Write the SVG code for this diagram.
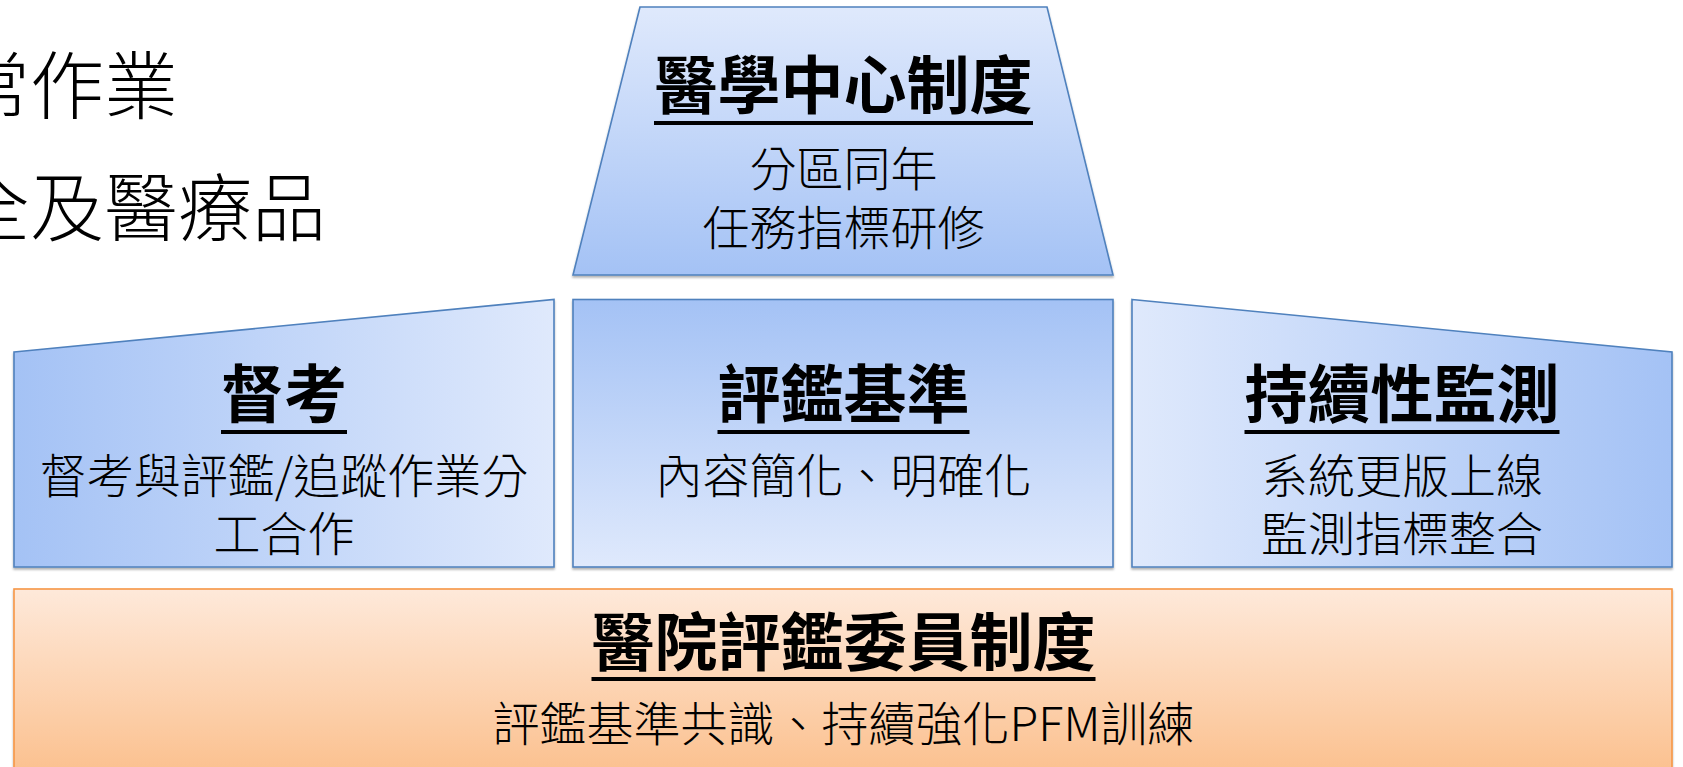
<svg xmlns="http://www.w3.org/2000/svg" width="1683" height="767" viewBox="0 0 1683 767">
  <style>
    text { font-family: "Noto Sans CJK TC", "Noto Sans CJK SC", "Noto Sans", sans-serif; fill: #000; text-anchor: middle; }
    .title { font-size: 63px; font-weight: bold; }
    .sub { font-size: 47px; font-weight: 300; }
    .bg { font-size: 74px; font-weight: 300; text-anchor: start; }
    .shape { stroke: #4f81bd; stroke-width: 1.6; filter: url(#shadow); }
    .ul { stroke: #000; stroke-width: 4; }
  </style>
  <defs>
    <linearGradient id="gDown" x1="0" y1="0" x2="0" y2="1">
      <stop offset="0" stop-color="#dfe9fc"/>
      <stop offset="1" stop-color="#a4c2f5"/>
    </linearGradient>
    <linearGradient id="gUp" x1="0" y1="0" x2="0" y2="1">
      <stop offset="0" stop-color="#a4c2f5"/>
      <stop offset="1" stop-color="#dfe9fc"/>
    </linearGradient>
    <linearGradient id="gLeft" x1="0" y1="0" x2="1" y2="0">
      <stop offset="0" stop-color="#a4c2f5"/>
      <stop offset="1" stop-color="#dfe9fc"/>
    </linearGradient>
    <linearGradient id="gRight" x1="0" y1="0" x2="1" y2="0">
      <stop offset="0" stop-color="#dfe9fc"/>
      <stop offset="1" stop-color="#a4c2f5"/>
    </linearGradient>
    <linearGradient id="gOrange" x1="0" y1="0" x2="0" y2="1">
      <stop offset="0" stop-color="#fee9da"/>
      <stop offset="1" stop-color="#fbbd88"/>
    </linearGradient>
    <filter id="shadow" x="-5%" y="-5%" width="110%" height="115%">
      <feDropShadow dx="0" dy="2" stdDeviation="1" flood-color="#000" flood-opacity="0.3"/>
    </filter>
  </defs>

  <g id="background-text">
    <text class="bg" x="-44" y="113">常作業</text>
    <text class="bg" x="-44" y="235">全及醫療品</text>
  </g>

  <g id="connectors"/>

  <g id="node-medical-center">
    <polygon class="shape" fill="url(#gDown)" points="640,7 1047,7 1113,275 573,275"/>
    <text class="title" x="843.5" y="108">醫學中心制度</text>
    <line class="ul" x1="654" y1="123" x2="1033" y2="123"/>
    <text class="sub" x="843.5" y="186">分區同年</text>
    <text class="sub" x="843.5" y="245">任務指標研修</text>
  </g>

  <g id="node-supervision">
    <polygon class="shape" fill="url(#gLeft)" points="14,352 554,299.5 554,567 14,567"/>
    <text class="title" x="284" y="417">督考</text>
    <line class="ul" x1="221" y1="432" x2="347" y2="432"/>
    <text class="sub" x="284" y="493">督考與評鑑/追蹤作業分</text>
    <text class="sub" x="284" y="551">工合作</text>
  </g>

  <g id="node-standards">
    <rect class="shape" fill="url(#gUp)" x="573" y="299.5" width="540" height="267.5"/>
    <text class="title" x="843.5" y="417">評鑑基準</text>
    <line class="ul" x1="717.5" y1="432" x2="969.5" y2="432"/>
    <text class="sub" x="843.5" y="493">內容簡化、明確化</text>
  </g>

  <g id="node-monitoring">
    <polygon class="shape" fill="url(#gRight)" points="1132,299.5 1672,352 1672,567 1132,567"/>
    <text class="title" x="1402" y="417">持續性監測</text>
    <line class="ul" x1="1244.5" y1="432" x2="1559.5" y2="432"/>
    <text class="sub" x="1402" y="493">系統更版上線</text>
    <text class="sub" x="1402" y="551">監測指標整合</text>
  </g>

  <g id="node-surveyor">
    <rect x="14" y="589" width="1658" height="200" fill="url(#gOrange)" stroke="#f79646" stroke-width="1.6" filter="url(#shadow)"/>
    <text class="title" x="843.5" y="665">醫院評鑑委員制度</text>
    <line class="ul" x1="591.5" y1="679" x2="1095.5" y2="679"/>
    <text class="sub" x="843.5" y="741">評鑑基準共識、持續強化PFM訓練</text>
  </g>
</svg>
